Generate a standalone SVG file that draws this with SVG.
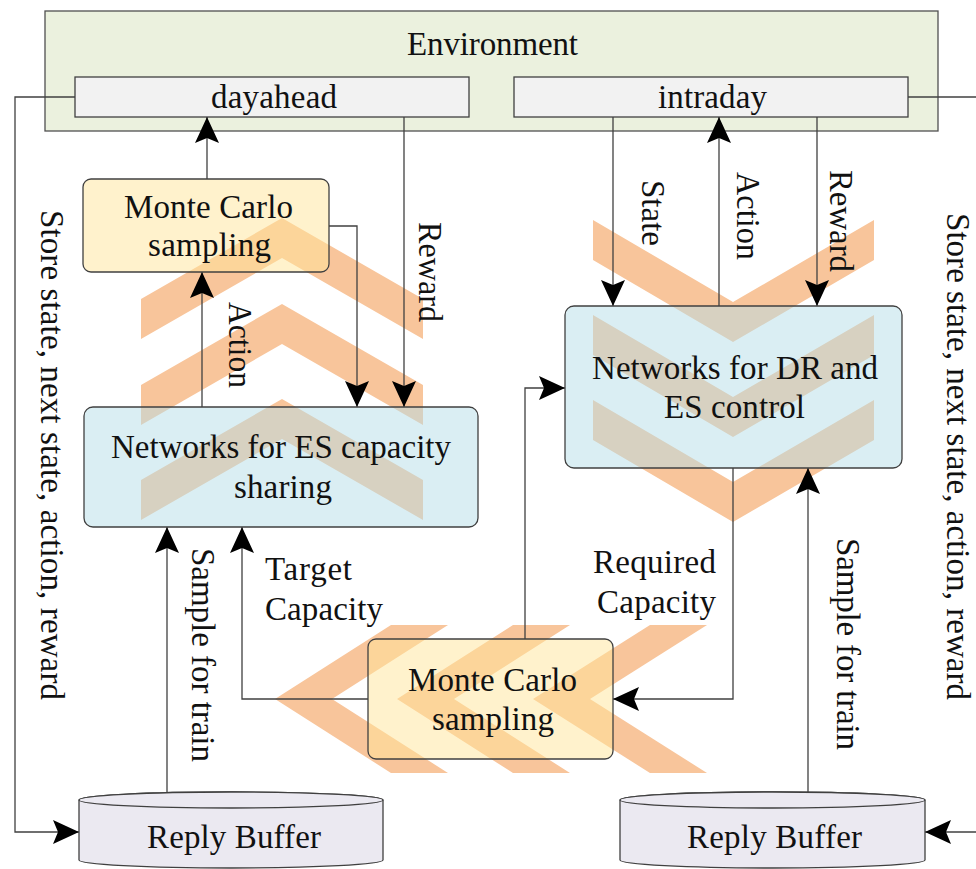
<svg xmlns="http://www.w3.org/2000/svg" width="976" height="869" viewBox="0 0 976 869">
  <style>
    .t { font-family: "Liberation Serif", "Times New Roman", serif; font-size: 33px; fill: #111; }
    .r { font-size: 33px; }
    .ln { fill: none; stroke: #404040; stroke-width: 1.3; }
    .arr { marker-end: url(#ah); }
    .chev { fill: #f8c59b; }
    .env { fill: #ebf1de; stroke: #505050; stroke-width: 1.3; }
    .stage { fill: #f2f2f2; stroke: #404040; stroke-width: 1.3; }
    .mc { fill: #ffe699; fill-opacity: 0.5; stroke: #404040; stroke-width: 1.3; }
    .net { fill: #b6dde8; fill-opacity: 0.5; stroke: #404040; stroke-width: 1.3; }
    .buf { fill: #ebe9f1; stroke: #404040; stroke-width: 1.3; }
  </style>
  <defs>
    <marker id="ah" markerUnits="userSpaceOnUse" markerWidth="28" markerHeight="26" viewBox="-27 -13 28 26" refX="0" refY="0" orient="auto">
      <path d="M0,0 L-26,-12 L-21,0 L-26,12 Z" fill="#000"/>
    </marker>
  </defs>

  <rect width="976" height="869" fill="#fff"/>

  <!-- environment with its two stages -->
  <g id="environment">
    <rect class="env" x="45" y="11" width="893" height="120"/>
    <text class="t" x="407" y="55" textLength="171" lengthAdjust="spacing">Environment</text>
  </g>
  <g id="dayahead">
    <rect class="stage" x="75" y="77" width="394" height="40"/>
    <text class="t" x="211" y="108" textLength="126" lengthAdjust="spacing">dayahead</text>
  </g>
  <g id="intraday">
    <rect class="stage" x="514" y="77" width="394" height="40"/>
    <text class="t" x="658" y="108" textLength="109" lengthAdjust="spacing">intraday</text>
  </g>

  <!-- flow chevrons -->
  <g id="chevrons">
    <polygon class="chev" points="141,299 282,218 423,299 423,339 282,258 141,339"/>
    <polygon class="chev" points="141,385 282,304 423,385 423,425 282,344 141,425"/>
    <polygon class="chev" points="141,480 282,399 423,480 423,520 282,439 141,520"/>
    <polygon class="chev" points="593,220 733,302 874,220 874,260 733,342 593,260"/>
    <polygon class="chev" points="593,315 733,397 874,315 874,355 733,437 593,355"/>
    <polygon class="chev" points="593,400 733,482 874,400 874,440 733,522 593,440"/>
    <polygon class="chev" points="275,699 391,625 448,625 332,699 448,773 391,773"/>
    <polygon class="chev" points="397,699 513,625 570,625 454,699 570,773 513,773"/>
    <polygon class="chev" points="533,699 650,625 707,625 590,699 707,773 650,773"/>
  </g>

  <!-- connectors -->
  <g id="connectors">
    <polyline class="ln arr" points="75,97 15,97 15,832 79,832"/>
    <polyline class="ln" points="908,97 976,97"/>
    <polyline class="ln arr" points="976,832 925,832"/>
    <polyline class="ln arr" points="207,179 207,117"/>
    <polyline class="ln arr" points="202,407 202,272"/>
    <polyline class="ln arr" points="329,226 357,226 357,407"/>
    <polyline class="ln arr" points="404,117 404,407"/>
    <polyline class="ln arr" points="167,793 167,527"/>
    <polyline class="ln arr" points="368,699 242,699 242,527"/>
    <polyline class="ln arr" points="525,639 525,388 565,388"/>
    <polyline class="ln arr" points="733,468 733,699 613,699"/>
    <polyline class="ln arr" points="808,793 808,468"/>
    <polyline class="ln arr" points="613,117 613,306"/>
    <polyline class="ln arr" points="719,306 719,117"/>
    <polyline class="ln arr" points="817,117 817,306"/>

    <text class="t r" transform="translate(229,302) rotate(90)" textLength="86" lengthAdjust="spacingAndGlyphs">Action</text>
    <text class="t r" transform="translate(419,222) rotate(90)" textLength="100" lengthAdjust="spacingAndGlyphs">Reward</text>
    <text class="t r" transform="translate(642,180) rotate(90)" textLength="66" lengthAdjust="spacing">State</text>
    <text class="t r" transform="translate(737,172) rotate(90)" textLength="88" lengthAdjust="spacingAndGlyphs">Action</text>
    <text class="t r" transform="translate(830,170) rotate(90)" textLength="102" lengthAdjust="spacingAndGlyphs">Reward</text>
    <text class="t r" transform="translate(192,548) rotate(90)" textLength="214" lengthAdjust="spacing">Sample for train</text>
    <text class="t r" transform="translate(837,538) rotate(90)" textLength="212" lengthAdjust="spacing">Sample for train</text>
    <text class="t r" transform="translate(41,210) rotate(90)" textLength="490" lengthAdjust="spacing">Store state, next state, action, reward</text>
    <text class="t r" transform="translate(947,213) rotate(90)" textLength="487" lengthAdjust="spacing">Store state, next state, action, reward</text>
    <text class="t" x="265" y="580" textLength="87" lengthAdjust="spacing">Target</text>
    <text class="t" x="265" y="620" textLength="118" lengthAdjust="spacing">Capacity</text>
    <text class="t" x="593" y="573" textLength="123" lengthAdjust="spacing">Required</text>
    <text class="t" x="597" y="613" textLength="119" lengthAdjust="spacing">Capacity</text>
  </g>

  <!-- agents and sampling blocks -->
  <g id="mc-dayahead">
    <rect class="mc" x="83" y="179" width="246" height="93" rx="8"/>
    <text class="t" x="124" y="218" textLength="169" lengthAdjust="spacing">Monte Carlo</text>
    <text class="t" x="148" y="256" textLength="123" lengthAdjust="spacing">sampling</text>
  </g>
  <g id="net-es-sharing">
    <rect class="net" x="84" y="407" width="394" height="120" rx="9"/>
    <text class="t" x="111" y="458" textLength="340" lengthAdjust="spacing">Networks for ES capacity</text>
    <text class="t" x="234" y="498" textLength="98" lengthAdjust="spacing">sharing</text>
  </g>
  <g id="net-dr-es">
    <rect class="net" x="565" y="306" width="337" height="162" rx="9"/>
    <text class="t" x="592" y="379" textLength="286" lengthAdjust="spacing">Networks for DR and</text>
    <text class="t" x="664" y="418" textLength="141" lengthAdjust="spacing">ES control</text>
  </g>
  <g id="mc-intraday">
    <rect class="mc" x="368" y="639" width="245" height="120" rx="8"/>
    <text class="t" x="408" y="691" textLength="169" lengthAdjust="spacing">Monte Carlo</text>
    <text class="t" x="432" y="730" textLength="122" lengthAdjust="spacing">sampling</text>
  </g>

  <!-- replay buffers -->
  <g id="buffer-left">
    <path class="buf" d="M79,800 V860 A152,8 0 0 0 383,860 V800 A152,8 0 0 0 79,800 Z"/>
    <ellipse class="buf" cx="231" cy="800" rx="152" ry="8"/>
    <text class="t" x="147" y="848" textLength="174" lengthAdjust="spacing">Reply Buffer</text>
  </g>
  <g id="buffer-right">
    <path class="buf" d="M620,800 V860 A152.5,8 0 0 0 925,860 V800 A152.5,8 0 0 0 620,800 Z"/>
    <ellipse class="buf" cx="772.5" cy="800" rx="152.5" ry="8"/>
    <text class="t" x="687" y="848" textLength="175" lengthAdjust="spacing">Reply Buffer</text>
  </g>
</svg>
